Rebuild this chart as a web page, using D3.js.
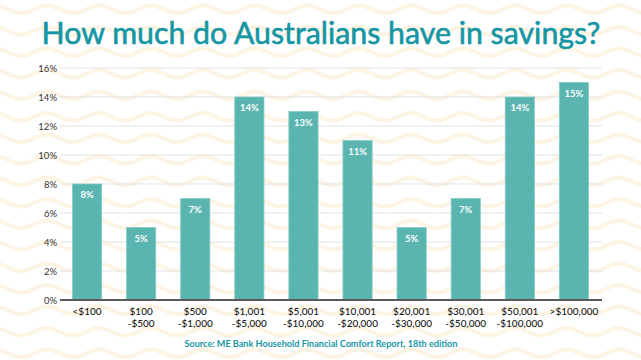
<!DOCTYPE html>
<html>
<head>
<meta charset="utf-8">
<script src="https://cdn.jsdelivr.net/npm/d3@7"></script>
<style>
  html, body { margin: 0; padding: 0; background: #fff; }
  svg { display: block; }
</style>
</head>
<body>
<svg id="chart" width="641" height="360"></svg>
<script>
const categories = ["<$100", "$100|-$500", "$500|-$1,000", "$1,001|-$5,000", "$5,001|-$10,000",
  "$10,001|-$20,000", "$20,001|-$30,000", "$30,001|-$50,000", "$50,001|-$100,000", ">$100,000"];
const values = [8, 5, 7, 14, 13, 11, 5, 7, 14, 15];
const yTicks = [0, 2, 4, 6, 8, 10, 12, 14, 16];
const title = "How much do Australians have in savings?";
const source = "Source: ME Bank Household Financial Comfort Report, 18th edition";

const W = 641, H = 360;
const svg = d3.select("#chart");

// wavy background
const bg = svg.append("g");
const lambda = 52, amp = 3.8, peakX = 47, rowGap = 21.5;
for (let n = -1; n <= 17; n++) {
  const crestY = 5.5 + n * rowGap;
  const pts = d3.range(-10, W + 12, 2).map(x => [x, crestY + amp * (1 - Math.cos(2 * Math.PI * (x - peakX) / lambda))]);
  bg.append("path")
    .attr("d", d3.line().curve(d3.curveBasis)(pts))
    .attr("fill", "none")
    .attr("stroke", "#fef4e4")
    .attr("stroke-width", 4);
}

const x = d3.scaleBand().domain(categories).range([60, 601]).paddingInner(0.46).paddingOuter(0.23);
const y = d3.scaleLinear().domain([0, 16]).range([300, 68]);

// gridlines
svg.append("g").selectAll("line").data(yTicks.filter(d => d > 0)).join("line")
  .attr("x1", 60).attr("x2", 602)
  .attr("y1", d => y(d)).attr("y2", d => y(d))
  .attr("stroke", "#e2e2e2").attr("stroke-width", 1);

// y tick labels
const yAxis = d3.axisLeft(y).tickValues(yTicks).tickFormat(d => d + "%").tickSize(0).tickPadding(3);
const yg = svg.append("g").attr("transform", "translate(60,0)").call(yAxis);
yg.select(".domain").remove();
yg.selectAll("text").attr("font-family", "Lato, sans-serif").attr("font-size", 9.5).attr("fill", "#333");

// bars
svg.append("g").selectAll("rect").data(values).join("rect")
  .attr("x", (d, i) => x(categories[i]))
  .attr("y", d => y(d))
  .attr("width", x.bandwidth())
  .attr("height", d => y(0) - y(d))
  .attr("fill", "#5ab5b0")
  .attr("stroke", "#86cbc6").attr("stroke-width", 0.8);

// value labels
svg.append("g").selectAll("text").data(values).join("text")
  .attr("x", (d, i) => x(categories[i]) + x.bandwidth() / 2)
  .attr("y", d => y(d) + 14)
  .attr("text-anchor", "middle")
  .attr("font-family", "Lato, sans-serif").attr("font-weight", 700).attr("font-size", 9.5)
  .attr("fill", "#fff")
  .text(d => d + "%");

// x axis line
svg.append("line").attr("x1", 60).attr("x2", 602).attr("y1", y(0)).attr("y2", y(0))
  .attr("stroke", "#5a5a5a").attr("stroke-width", 2);

// x labels
const xl = svg.append("g").selectAll("text").data(categories).join("text")
  .attr("text-anchor", "middle")
  .attr("font-family", "Lato, sans-serif").attr("font-weight", 500).attr("font-size", 10)
  .attr("fill", "#1a1a1a");
xl.each(function(d) {
  const t = d3.select(this);
  const cx = x(d) + x.bandwidth() / 2;
  d.split("|").forEach((s, i) => {
    t.append("tspan").attr("x", cx).attr("y", 315 + i * 12).text(s);
  });
});

// title
svg.append("text").attr("x", 321).attr("y", 44).attr("text-anchor", "middle")
  .attr("font-family", "Lato, sans-serif").attr("font-weight", 400).attr("font-size", 30.3)
  .attr("fill", "#1696a3").attr("stroke", "#1696a3").attr("stroke-width", 0.6)
  .text(title);

// source
svg.append("text").attr("x", 321).attr("y", 347).attr("text-anchor", "middle")
  .attr("font-family", "Lato, sans-serif").attr("font-weight", 700).attr("font-size", 9.1)
  .attr("fill", "#1696a3").text(source);
</script>
</body>
</html>
